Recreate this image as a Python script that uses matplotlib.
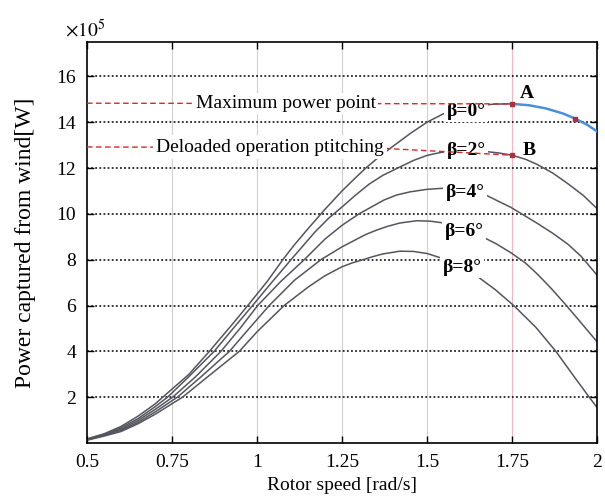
import matplotlib
matplotlib.use('Agg')
import matplotlib.pyplot as plt

plt.rcParams['font.family'] = ['Liberation Serif', 'DejaVu Serif']
plt.rcParams['mathtext.fontset'] = 'stix'

# rotor speed (rad/s) and captured power (x1e5 W)
speed_b0 = [0.5, 0.55, 0.6, 0.65, 0.7, 0.723, 0.8, 0.86, 0.92, 0.973, 1.03,
            1.076, 1.11, 1.15, 1.2, 1.25, 1.29, 1.32, 1.36, 1.4, 1.45, 1.5,
            1.55, 1.6, 1.66, 1.7, 1.75]
power_b0 = [0.18, 0.4, 0.72, 1.17, 1.7, 2.0, 3.0, 4.0, 5.05, 6.0, 7.05,
            8.0, 8.65, 9.35, 10.2, 11.0, 11.58, 12.0, 12.5, 12.95, 13.5, 14.0,
            14.38, 14.6, 14.74, 14.79, 14.8]

speed_mpp = [1.75, 1.8, 1.85, 1.9, 1.935, 1.97, 2.0]
power_mpp = [14.8, 14.74, 14.6, 14.38, 14.16, 13.9, 13.6]

speed_b2 = [0.5, 0.55, 0.6, 0.65, 0.7, 0.737, 0.8, 0.874, 0.93, 0.987, 1.04,
            1.1, 1.17, 1.21, 1.25, 1.29, 1.33, 1.37, 1.414, 1.46, 1.5, 1.54,
            1.58, 1.63, 1.673, 1.71, 1.75, 1.79, 1.825, 1.87, 1.914, 1.96, 2.0]
power_b2 = [0.16, 0.37, 0.66, 1.06, 1.58, 2.0, 2.9, 4.0, 5.0, 6.0, 6.95,
            8.0, 9.2, 9.8, 10.3, 10.82, 11.3, 11.68, 12.0, 12.33, 12.55, 12.68,
            12.75, 12.76, 12.72, 12.66, 12.56, 12.38, 12.15, 11.78, 11.32, 10.8, 10.23]

speed_b4 = [0.5, 0.55, 0.6, 0.65, 0.7, 0.752, 0.82, 0.894, 0.95, 1.002, 1.07,
            1.139, 1.2, 1.25, 1.3, 1.373, 1.41, 1.45, 1.5, 1.55, 1.6, 1.64,
            1.673, 1.747, 1.825, 1.87, 1.914, 1.953, 2.0]
power_b4 = [0.15, 0.35, 0.6, 0.98, 1.46, 2.0, 2.9, 4.0, 5.0, 6.0, 7.05,
            8.0, 8.9, 9.5, 10.0, 10.6, 10.82, 10.96, 11.07, 11.12, 11.1, 11.0,
            10.82, 10.28, 9.58, 9.15, 8.68, 8.15, 7.33]

speed_b6 = [0.5, 0.55, 0.6, 0.65, 0.7, 0.766, 0.84, 0.919, 0.98, 1.036, 1.11,
            1.188, 1.25, 1.29, 1.32, 1.35, 1.383, 1.42, 1.47, 1.51, 1.55, 1.6,
            1.663, 1.705, 1.747, 1.79, 1.826, 1.865, 1.904, 1.95, 2.0]
power_b6 = [0.14, 0.33, 0.55, 0.9, 1.35, 2.0, 2.95, 4.0, 5.05, 6.0, 7.1,
            8.0, 8.56, 8.87, 9.1, 9.28, 9.45, 9.6, 9.7, 9.68, 9.6, 9.4,
            9.0, 8.68, 8.3, 7.85, 7.35, 6.75, 6.1, 5.3, 4.42]

speed_b8 = [0.5, 0.55, 0.6, 0.65, 0.7, 0.781, 0.86, 0.948, 1.0, 1.08, 1.15,
            1.2, 1.25, 1.28, 1.312, 1.34, 1.37, 1.42, 1.46, 1.5, 1.54, 1.6,
            1.65, 1.7, 1.755, 1.82, 1.879, 1.93, 1.977, 2.0]
power_b8 = [0.12, 0.3, 0.5, 0.84, 1.25, 2.0, 2.95, 4.0, 4.85, 6.0, 6.8,
            7.3, 7.69, 7.86, 8.0, 8.13, 8.25, 8.37, 8.36, 8.27, 8.08, 7.7,
            7.25, 6.7, 6.0, 5.05, 4.0, 2.95, 2.0, 1.55]

curves = [(speed_b0, power_b0), (speed_b2, power_b2), (speed_b4, power_b4),
          (speed_b6, power_b6), (speed_b8, power_b8)]
beta_labels = ['β=0°', 'β=2°', 'β=4°', 'β=6°', 'β=8°']
label_x = [1.615, 1.615, 1.612, 1.609, 1.603]
label_y = [14.48, 12.78, 10.92, 9.25, 7.65]

point_a = (1.75, 14.8)
point_b = (1.75, 12.56)
point_c = (1.935, 14.16)

xticks = [0.5, 0.75, 1, 1.25, 1.5, 1.75, 2]
xticklabels = ['0.5', '0.75', '1', '1.25', '1.5', '1.75', '2']
yticks = [2, 4, 6, 8, 10, 12, 14, 16]

fig = plt.figure(figsize=(6.05, 4.96), dpi=100)
ax = fig.add_axes([0.1438, 0.1069, 0.843, 0.8084])

# grid: light vertical lines, dotted horizontal lines
for xv in [0.75, 1.0, 1.25, 1.5]:
    ax.axvline(xv, color='#d0d0d0', lw=0.8, zorder=0)
ax.axvline(1.75, color='#f2b8c0', lw=0.8, zorder=0)
for yv in yticks:
    ax.axhline(yv, color='black', lw=1.1, ls=(0, (1.2, 1.5)), zorder=1)

for sx, sy in curves:
    ax.plot(sx, sy, color='#55555f', lw=1.1, zorder=2)
ax.plot(speed_mpp, power_mpp, color='#4a90d9', lw=1.8, zorder=3)

for lab, lx, ly in zip(beta_labels, label_x, label_y):
    ax.text(lx, ly, lab, fontsize=14, fontweight='bold', ha='center', va='center',
            bbox=dict(facecolor='white', edgecolor='none', pad=1.5), zorder=4)

# red dashed guides
ax.plot([0.5, point_a[0]], [14.83, point_a[1]], color='#d42a2a', lw=1.0,
        dashes=(4, 2.5), zorder=5)
ax.plot([0.5, 1.345, point_b[0]], [12.92, 12.88, point_b[1]], color='#d42a2a',
        lw=1.0, dashes=(4, 2.5), zorder=5)
ax.text(0.82, 14.83, 'Maximum power point', fontsize=14, ha='left', va='center',
        bbox=dict(facecolor='white', edgecolor='none', pad=1.5), zorder=6)
ax.text(0.703, 12.9, 'Deloaded operation ptitching', fontsize=14, ha='left',
        va='center', bbox=dict(facecolor='white', edgecolor='none', pad=2.5),
        zorder=6)

for px, py in [point_a, point_b, point_c]:
    ax.plot(px, py, marker='s', ms=3.5, color='#a8323c', zorder=7)
ax.text(1.794, 15.25, 'A', fontsize=14, fontweight='bold', ha='center', va='center')
ax.text(1.8, 12.78, 'B', fontsize=14, fontweight='bold', ha='center', va='center')

ax.set_xlim(0.5, 2)
ax.set_ylim(0, 17.5)
ax.set_xticks(xticks)
ax.set_xticklabels(xticklabels)
ax.set_yticks(yticks)
ax.tick_params(direction='in', top=True, right=True, labelsize=14, length=5,
               width=1, pad=8)
for sp in ax.spines.values():
    sp.set_linewidth(1.2)

ax.set_xlabel('Rotor speed [rad/s]', fontsize=14, labelpad=4)
ax.set_ylabel('Power captured from wind[W]', fontsize=17)
ax.yaxis.set_label_coords(-0.1, 0.5)
fig.text(0.108, 0.94, r'$\times10^{5}$', fontsize=14, ha='left', va='center')

fig.savefig('out.png', dpi=100)
